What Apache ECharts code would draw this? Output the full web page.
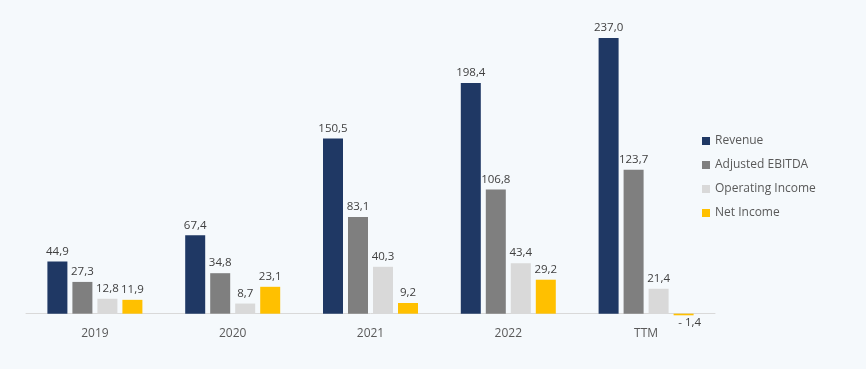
<!DOCTYPE html>
<html><head><meta charset="utf-8">
<script src="https://cdn.jsdelivr.net/npm/echarts@6/dist/echarts.min.js"></script>
<style>html,body{margin:0;padding:0;background:#f5f9fc;}#c{width:866px;height:369px;}</style>
</head><body><div id="c"></div>
<script>
const categories = ['2019','2020','2021','2022','TTM'];
const revenue = [44.9, 67.4, 150.5, 198.4, 237.0];
const ebitda = [27.3, 34.8, 83.1, 106.8, 123.7];
const operating = [12.8, 8.7, 40.3, 43.4, 21.4];
const netIncome = [11.9, 23.1, 9.2, 29.2, -1.4];
const seriesNames = ['Revenue','Adjusted EBITDA','Operating Income','Net Income'];
const colors = ['#1f3864','#7f7f7f','#d9d9d9','#ffc000'];

const fmt = v => v < 0 ? '- ' + Math.abs(v).toFixed(1).replace('.', ',') : v.toFixed(1).replace('.', ',');
const font = '"Open Sans", sans-serif';
function mk(name, data, color){
  return {
    name, type:'bar', data: data.map(v => v < 0 ? {value:v, label:{position:'bottom', offset:[6,-3]}} : v),
    barWidth:20, barGap:'25%',
    itemStyle:{color},
    label:{show:true, position:'top', distance:4, color:'#404040', fontSize:11.5, fontFamily:font,
      formatter: p => fmt(p.value)}
  };
}
const chart = echarts.init(document.getElementById('c'));
chart.setOption({
  backgroundColor:'#f5f9fc',
  animation:false,
  grid:{left:26, right:151, top:38, bottom:53},
  legend:{orient:'vertical', left:697, top:130, itemWidth:8, itemHeight:8, itemGap:12,
    icon:'rect', textStyle:{color:'#595959', fontSize:12, fontFamily:font},
    data: seriesNames},
  xAxis:{type:'category', data:categories, axisTick:{show:false},
    axisLine:{lineStyle:{color:'#d9d9d9'}},
    axisLabel:{color:'#595959', fontSize:12, fontFamily:font, margin:12}},
  yAxis:{type:'value', min:-2, max:237, show:false, splitLine:{show:false}},
  series:[mk(seriesNames[0], revenue, colors[0]), mk(seriesNames[1], ebitda, colors[1]),
          mk(seriesNames[2], operating, colors[2]), mk(seriesNames[3], netIncome, colors[3])]
});
</script></body></html>
